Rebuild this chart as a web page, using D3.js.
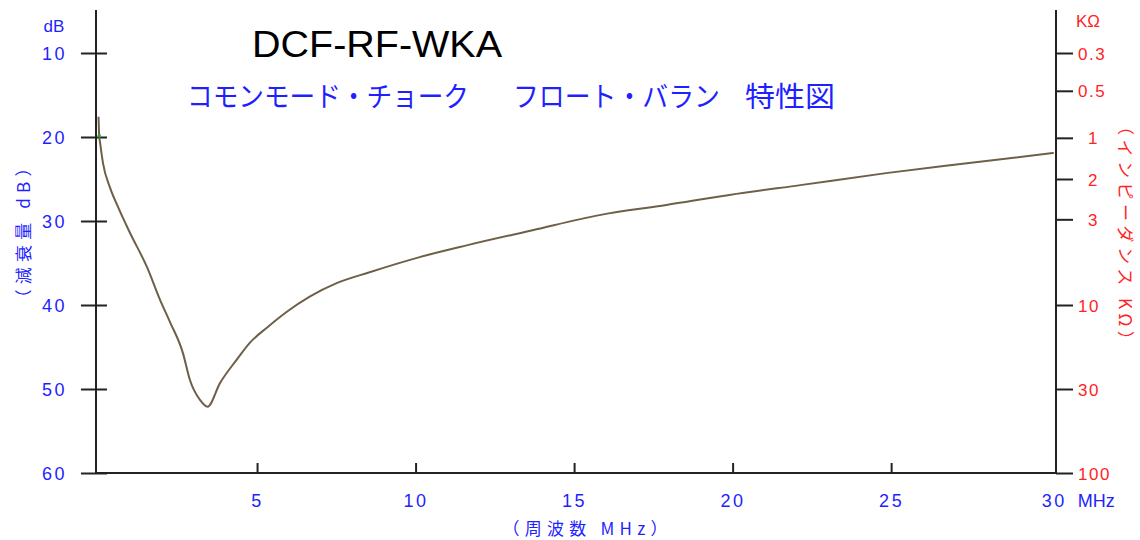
<!DOCTYPE html>
<html>
<head>
<meta charset="utf-8">
<script src="https://cdn.jsdelivr.net/npm/d3@7"></script>
<style>
  body { margin: 0; background: #fff; }
  svg { display: block; }
  .num { font-family: "Liberation Sans", Arial, sans-serif; }
  .jp { font-family: "Noto Sans CJK JP", sans-serif; }
</style>
</head>
<body>
<svg id="chart" width="1140" height="540"></svg>
<script>
// frequency (MHz) vs attenuation (dB)
const freqMHz = [0, 0.02, 0.05, 0.14, 0.36, 0.61, 0.99, 1.53, 1.94, 2.25, 2.66, 2.88, 3.2, 3.44,
                 3.83, 4.36, 4.77, 5.31, 5.94, 6.66, 7.51, 8.55, 10.13, 11.61, 13.69, 15.8,
                 17.91, 19.9, 22.19, 24.84, 27.46, 30.13];
const attenDb = [17.6, 19.8, 20.7, 23.1, 26.0, 28.3, 31.4, 35.5, 39.4, 42.0, 45.7, 48.9, 51.3, 52.1,
                 49.3, 46.5, 44.5, 42.7, 40.8, 39.0, 37.4, 36.1, 34.3, 32.9, 31.1, 29.3,
                 28.1, 26.9, 25.7, 24.3, 23.1, 21.9];

const dbTicks = [10, 20, 30, 40, 50, 60];
const freqTicks = [5, 10, 15, 20, 25, 30];
// impedance scale on the right (kOhm), placed at its equivalent dB level
const ohmLabels = ["0.3", "0.5", "1", "2", "3", "10", "30", "100"];
const ohmTickDb = [10, 14.5, 20.1, 25.0, 29.8, 40, 50, 60];

const blue = "#1f1fff";
const red = "#ff2424";
const axisColor = "#222";

const svg = d3.select("#chart");
const plotLeft = 96, plotRight = 1056, plotTop = 10, plotBottom = 473;

const x = d3.scaleLinear().domain([-0.08, 30.2]).range([plotLeft, plotRight]);
const y = d3.scaleLinear().domain([10, 60]).range([53, plotBottom]);

// frame
const frame = svg.append("g").attr("stroke", axisColor).attr("stroke-width", 2);
frame.append("line").attr("x1", plotLeft).attr("x2", plotLeft).attr("y1", plotTop).attr("y2", plotBottom);
frame.append("line").attr("x1", plotRight).attr("x2", plotRight).attr("y1", plotTop).attr("y2", plotBottom);
frame.append("line").attr("x1", plotLeft - 1).attr("x2", plotRight).attr("y1", plotBottom).attr("y2", plotBottom);

// left axis (dB)
const gLeft = svg.append("g")
    .attr("transform", `translate(${plotLeft},0)`)
    .call(d3.axisLeft(y).tickValues(dbTicks).tickSize(15).tickSizeOuter(0).tickPadding(14));
gLeft.select(".domain").remove();
gLeft.selectAll(".tick line").attr("x1", 11).attr("stroke", axisColor).attr("stroke-width", 2);
gLeft.selectAll(".tick text")
    .attr("class", "num")
    .attr("fill", blue)
    .attr("font-size", 18)
    .attr("letter-spacing", 2.5)
    .attr("dy", "0.36em");

svg.append("text").attr("class", "num")
    .attr("x", 54).attr("y", 32)
    .attr("text-anchor", "middle")
    .attr("fill", blue).attr("font-size", 17)
    .text("dB");

// right axis (kOhm)
const gRight = svg.append("g")
    .attr("transform", `translate(${plotRight},0)`)
    .call(d3.axisRight(y).tickValues(ohmTickDb).tickSize(17).tickSizeOuter(0).tickPadding(5)
        .tickFormat((d, i) => ohmLabels[i]));
gRight.select(".domain").remove();
gRight.selectAll(".tick line").attr("stroke", axisColor).attr("stroke-width", 2);
gRight.selectAll(".tick text")
    .attr("class", "num")
    .attr("fill", red)
    .attr("font-size", 17)
    .attr("letter-spacing", 1.5)
    .attr("dy", "0.36em")
    .attr("dx", (d, i) => ohmLabels[i].length === 1 ? 10 : 0);

svg.append("text").attr("class", "num")
    .attr("x", 1076).attr("y", 27)
    .attr("fill", red).attr("font-size", 17)
    .text("KΩ");

// bottom axis (MHz)
const gBottom = svg.append("g")
    .attr("transform", `translate(0,${plotBottom})`)
    .call(d3.axisBottom(x).tickValues(freqTicks).tickSize(-10).tickSizeOuter(0).tickPadding(21));
gBottom.select(".domain").remove();
gBottom.selectAll(".tick line")
    .attr("stroke", axisColor).attr("stroke-width", 2)
    .attr("display", d => d === 30 ? "none" : null);
gBottom.selectAll(".tick text")
    .attr("class", "num")
    .attr("fill", blue)
    .attr("font-size", 18)
    .attr("letter-spacing", 2.5)
    .attr("dx", d => d === 30 ? 4 : 0);

svg.append("text").attr("class", "num")
    .attr("x", x(30) + 28).attr("y", 507)
    .attr("fill", blue).attr("font-size", 18)
    .text("MHz");

// axis titles
svg.append("text").attr("class", "jp")
    .attr("x", 585).attr("y", 535)
    .attr("text-anchor", "middle")
    .attr("fill", blue).attr("font-size", 17)
    .attr("textLength", 165).attr("lengthAdjust", "spacing")
    .text("（周波数 MHz）");

svg.append("text").attr("class", "jp")
    .attr("transform", "translate(30,233) rotate(-90)")
    .attr("text-anchor", "middle")
    .attr("fill", blue).attr("font-size", 17)
    .attr("textLength", 147).attr("lengthAdjust", "spacing")
    .text("（減衰量 dB）");

svg.append("text").attr("class", "jp")
    .attr("transform", "translate(1119,233) rotate(90)")
    .attr("text-anchor", "middle")
    .attr("fill", red).attr("font-size", 17)
    .attr("textLength", 230).attr("lengthAdjust", "spacing")
    .text("（インピーダンス KΩ）");

// titles
svg.append("text").attr("class", "num")
    .attr("x", 252).attr("y", 57)
    .attr("fill", "#000").attr("font-size", 37)
    .attr("textLength", 250).attr("lengthAdjust", "spacingAndGlyphs")
    .text("DCF-RF-WKA");

const subtitle = [
    { text: "コモンモード・チョーク", x: 187, w: 282 },
    { text: "フロート・バラン", x: 513, w: 207 },
    { text: "特性図", x: 745, w: 90 }
];
svg.selectAll(".subtitle").data(subtitle).join("text")
    .attr("class", "subtitle jp")
    .attr("x", d => d.x).attr("y", 107)
    .attr("fill", blue).attr("font-size", 28)
    .attr("textLength", d => d.w).attr("lengthAdjust", "spacingAndGlyphs")
    .text(d => d.text);

// curve
const line = d3.line()
    .x(d => x(d[0]))
    .y(d => y(d[1]))
    .curve(d3.curveMonotoneX);

svg.append("path")
    .datum(d3.zip(freqMHz, attenDb))
    .attr("fill", "none")
    .attr("stroke", "#6e6048")
    .attr("stroke-width", 2)
    .attr("stroke-linejoin", "round")
    .attr("d", line);

svg.append("circle")
    .attr("cx", x(freqMHz[1])).attr("cy", y(attenDb[1]))
    .attr("r", 1.5).attr("fill", "#00c000");
</script>
</body>
</html>
